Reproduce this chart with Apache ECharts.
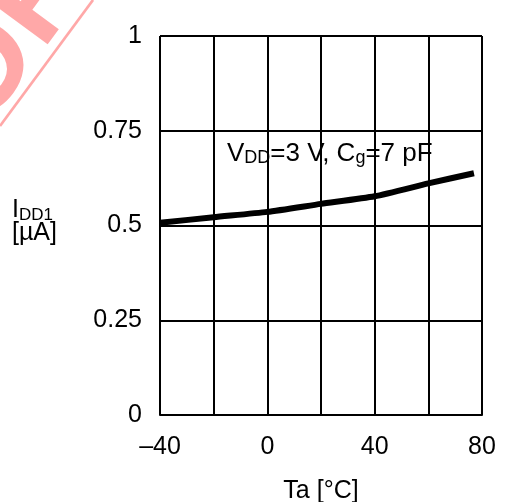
<!DOCTYPE html>
<html><head><meta charset="utf-8">
<script src="https://cdn.jsdelivr.net/npm/echarts@6/dist/echarts.min.js"></script>
<style>html,body{margin:0;padding:0;background:#fff}#c{width:505px;height:502px}</style>
</head><body><div id="c"></div>
<script>
const temps = [-40, -20, 0, 20, 40, 60, 77];
const idd = [0.507, 0.522, 0.536, 0.557, 0.577, 0.611, 0.638];
const xTickLabels = {"-40": "\u201340", "0": "0", "40": "40", "80": "80"};
const yTickLabels = {"0": "0", "0.25": "0.25", "0.5": "0.5", "0.75": "0.75", "1": "1"};
const F = "Liberation Sans, Arial, sans-serif";
const chart = echarts.init(document.getElementById('c'));
chart.setOption({
  animation: false,
  backgroundColor: '#fff',
  grid: {left: 160, right: 23, top: 36, bottom: 87, outerBoundsMode: 'none', containLabel: false},
  xAxis: {
    type: 'value', min: -40, max: 80, interval: 20,
    name: 'Ta [\u00B0C]', nameLocation: 'middle', nameGap: 64,
    nameTextStyle: {color: '#000', fontSize: 25, fontFamily: F},
    axisLine: {show: true, lineStyle: {color: '#000', width: 2}},
    axisTick: {show: false},
    splitLine: {show: true, lineStyle: {color: '#000', width: 2}},
    axisLabel: {color: '#000', fontSize: 25, fontFamily: F, margin: 20,
      formatter: v => (xTickLabels[String(v)] !== undefined ? xTickLabels[String(v)] : '')}
  },
  yAxis: {
    type: 'value', min: 0, max: 1, interval: 0.25,
    axisLine: {show: true, lineStyle: {color: '#000', width: 2}},
    axisTick: {show: false},
    splitLine: {show: true, lineStyle: {color: '#000', width: 2}},
    axisLabel: {color: '#000', fontSize: 25, fontFamily: F, margin: 18,
      formatter: v => (yTickLabels[String(v)] !== undefined ? yTickLabels[String(v)] : '')}
  },
  series: [{
    type: 'line', data: temps.map((t, i) => [t, idd[i]]), smooth: 0.2,
    showSymbol: false, lineStyle: {color: '#000', width: 6, cap: 'butt'}
  }],
  graphic: [
    {type: 'text', x: 6, y: 150, rotation: 0.936, silent: true,
      style: {text: 'OF', fill: '#ffa8a8', font: 'bold 130px ' + F,
        align: 'left', verticalAlign: 'bottom'}},
    {type: 'line', silent: true, shape: {x1: 0, y1: 126, x2: 93, y2: 0},
      style: {stroke: '#ffa8a8', lineWidth: 2.7}},
    {type: 'text', left: 12, top: 198, silent: true,
      style: {rich: {
        a: {fontSize: 25, fontFamily: F, fill: '#000'},
        s: {fontSize: 17, fontFamily: F, fill: '#000', padding: [9, 0, 0, 0]}
      }, text: '{a|I}{s|DD1}'}},
    {type: 'text', left: 12, top: 221, silent: true,
      style: {text: '[\u00B5A]', fill: '#000', font: '25px ' + F}},
    {type: 'text', left: 227, top: 141, silent: true,
      style: {rich: {
        a: {fontSize: 26, fontFamily: F, fill: '#000'},
        s: {fontSize: 18, fontFamily: F, fill: '#000', padding: [9, 0, 0, 0]}
      }, text: '{a|V}{s|DD}{a|=3 V, C}{s|g}{a|=7 pF}'}}
  ]
});
</script></body></html>
